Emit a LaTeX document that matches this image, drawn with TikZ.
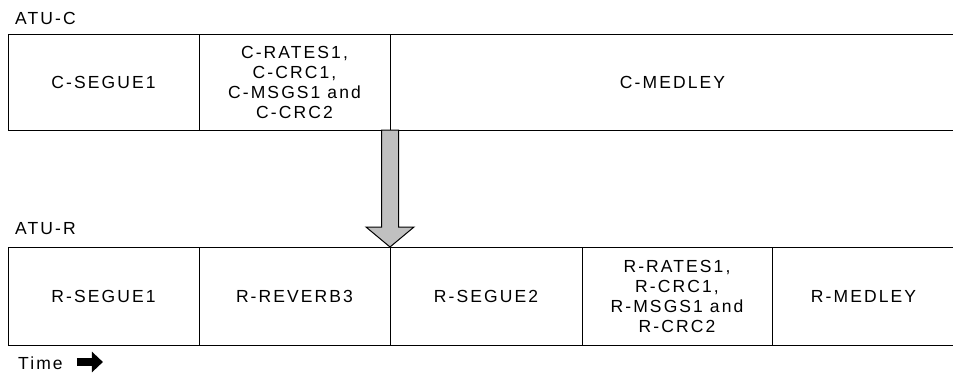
\documentclass[tikz,border=0pt]{standalone}
\usepackage{fontspec}
\setmainfont{Liberation Sans}[LetterSpace=12]
\usetikzlibrary{positioning,arrows.meta,calc}
\definecolor{shaftgray}{RGB}{192,192,192}

\begin{document}
\begin{tikzpicture}[
  x=1pt, y=-1pt,
  node distance=0pt,
  txt/.style={font=\fontsize{17.5}{20}\selectfont},
  seg/.style={txt,draw,line width=1pt,outer sep=0pt,inner sep=2pt,align=center},
  cseg/.style={seg,minimum height=96pt},
  rseg/.style={seg,minimum height=98pt},
  lbl/.style={txt,inner sep=0pt}
]
\useasboundingbox (0,0) rectangle (953,376);
% ATU-C row
\node[cseg,minimum width=191pt,anchor=north west] (c1) at (8,34) {C-SEGUE1};
\node[cseg,minimum width=191pt,right=of c1] (c2) {C-RATES1,\\C-CRC1,\\C-MSGS1 and\\C-CRC2};
\node[cseg,minimum width=565pt,right=of c2] (c3) {C-MEDLEY};
\node[lbl,anchor=base west] (atuc) at ($(c1.north west)+(7,-10)$) {ATU-C};
% ATU-R row
\node[rseg,minimum width=191pt,anchor=north west] (r1) at (8,247) {R-SEGUE1};
\node[rseg,minimum width=191pt,right=of r1] (r2) {R-REVERB3};
\node[rseg,minimum width=192pt,right=of r2] (r3) {R-SEGUE2};
\node[rseg,minimum width=190pt,right=of r3] (r4) {R-RATES1,\\R-CRC1,\\R-MSGS1 and\\R-CRC2};
\node[rseg,minimum width=183pt,right=of r4] (r5) {R-MEDLEY};
\node[lbl,anchor=base west] (atur) at ($(r1.north west)+(7,-13)$) {ATU-R};
% hand-over arrow
\coordinate (atop) at (c2.south east);
\coordinate (atip) at (r2.north east);
\draw[line width=1pt,fill=shaftgray,line join=miter]
  ($(atop)+(-8.5,0)$) -- ($(atip)+(-8.5,-20)$) -- ($(atip)+(-24,-20)$) -- (atip)
  -- ($(atip)+(24,-20)$) -- ($(atip)+(8.5,-20)$) -- ($(atop)+(8.5,0)$) -- cycle;
% time axis
\node[lbl,anchor=base west] (time) at ($(r1.south west)+(10,24)$) {Time};
\draw[line width=8pt,-{Triangle[length=11pt,width=20pt]}] ($(time.base east)+(14,-7)$) -- ++(26,0);
\end{tikzpicture}
\end{document}
